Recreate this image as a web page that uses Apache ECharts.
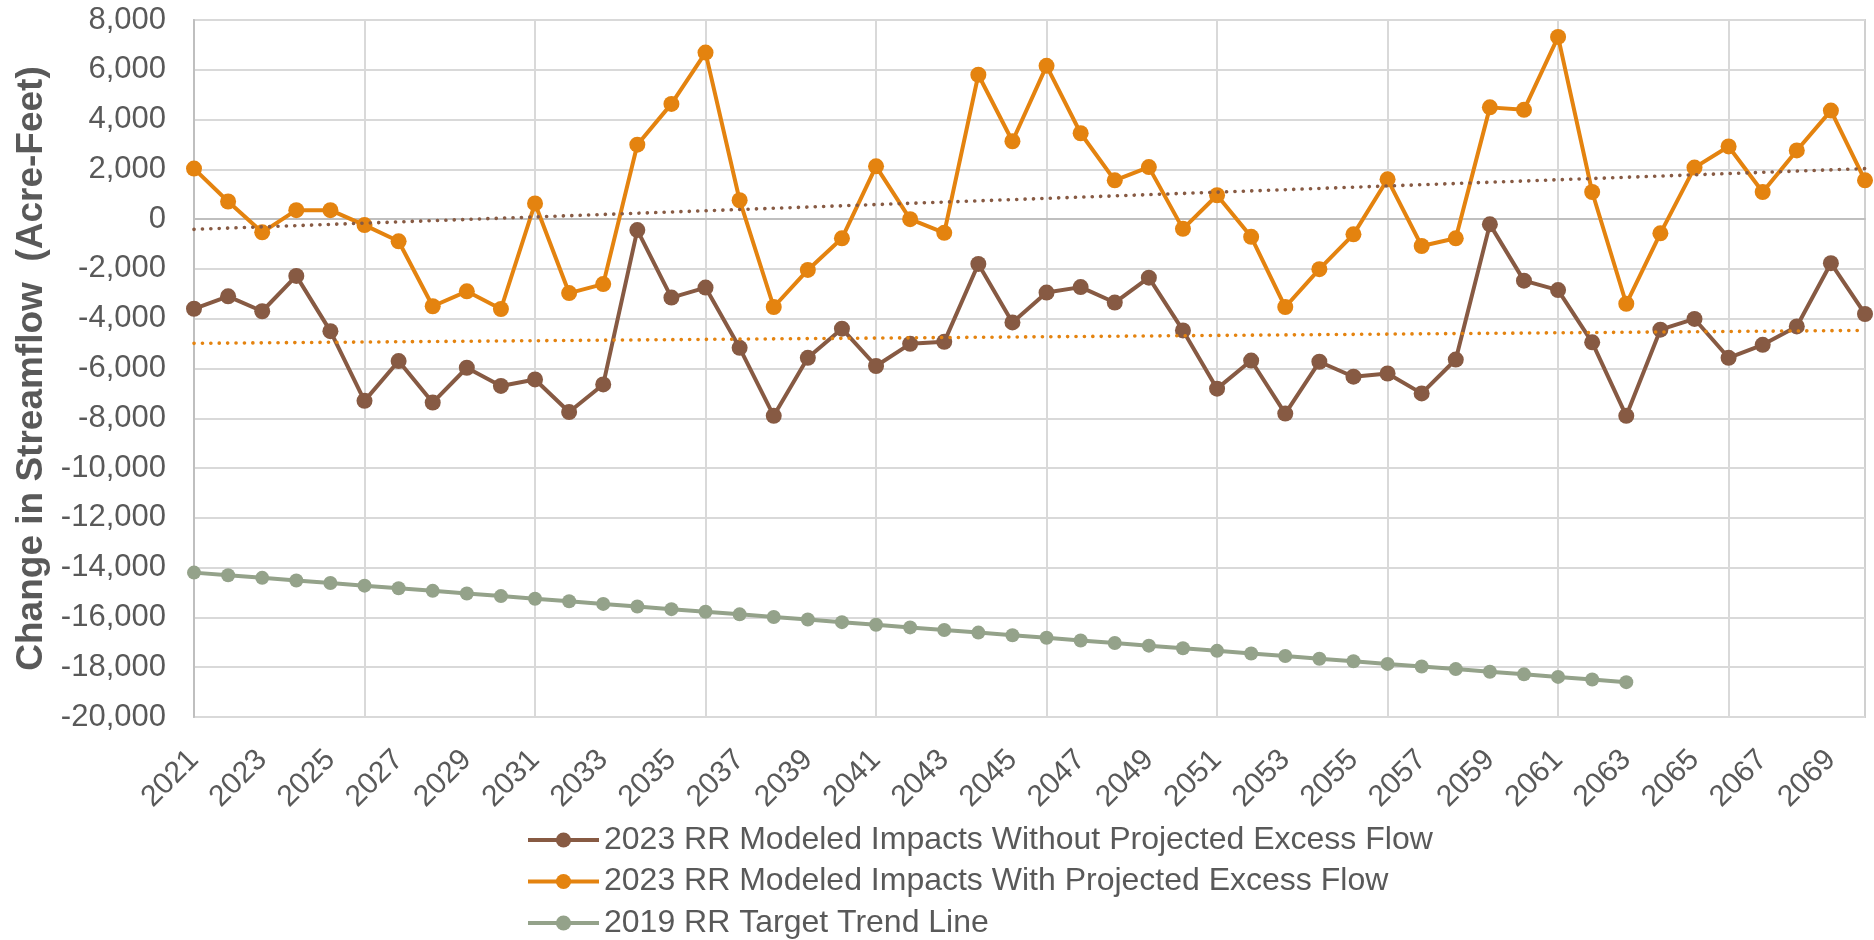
<!DOCTYPE html>
<html>
<head>
<meta charset="utf-8">
<script src="https://cdn.jsdelivr.net/npm/echarts@6/dist/echarts.min.js"></script>
<style>
html,body{margin:0;padding:0;background:#fff;}
#chart{width:1874px;height:940px;}
</style>
</head>
<body>
<div id="chart"></div>
<script>
const years = ['2021','2022','2023','2024','2025','2026','2027','2028','2029','2030',
  '2031','2032','2033','2034','2035','2036','2037','2038','2039','2040',
  '2041','2042','2043','2044','2045','2046','2047','2048','2049','2050',
  '2051','2052','2053','2054','2055','2056','2057','2058','2059','2060',
  '2061','2062','2063','2064','2065','2066','2067','2068','2069','2070'];

const withoutExcess = [-3600,-3100,-3700,-2280,-4500,-7300,-5700,-7370,-5970,-6700,
  -6440,-7750,-6640,-440,-3150,-2750,-5170,-7900,-5570,-4400,
  -5900,-5010,-4930,-1800,-4150,-2950,-2730,-3350,-2350,-4470,
  -6810,-5680,-7810,-5730,-6330,-6200,-7000,-5640,-210,-2470,
  -2850,-4950,-7900,-4440,-4010,-5570,-5050,-4310,-1770,-3810];

const withExcess = [2030,710,-530,360,360,-240,-890,-3500,-2900,-3610,
  630,-2970,-2610,2990,4630,6690,760,-3530,-2040,-770,
  2120,0,-550,5800,3130,6160,3450,1560,2090,-390,
  960,-710,-3530,-2010,-610,1600,-1080,-770,4490,4390,
  7320,1090,-3400,-570,2070,2920,1090,2760,4360,1560];

const targetTrend2019 = [-14200,-14305,-14410,-14514,-14619,-14724,-14829,-14933,-15038,-15143,
  -15248,-15352,-15457,-15562,-15667,-15771,-15876,-15981,-16086,-16190,
  -16295,-16400,-16505,-16610,-16714,-16819,-16924,-17029,-17133,-17238,
  -17343,-17448,-17552,-17657,-17762,-17867,-17971,-18076,-18181,-18286,
  -18390,-18495,-18600];

// Excel linear trendline end values (first year, last year)
const withoutTrendEnds = [-410, 2030];
const withTrendEnds = [-4990, -4470];

const seriesNames = [
  '2023 RR Modeled Impacts Without Projected Excess Flow',
  '2023 RR Modeled Impacts With Projected Excess Flow',
  '2019 RR Target Trend Line'
];

const yTicks = {min: -20000, max: 8000, interval: 2000};

const cBrown = '#875A43';
const cOrange = '#E4830F';
const cGreen = '#94A28A';
const textColor = '#595959';
const font = "'Liberation Sans', Arial, sans-serif";

function trendData(ends) {
  const d = years.map(() => null);
  d[0] = ends[0];
  d[years.length - 1] = ends[1];
  return d;
}
const greenData = years.map((y, i) => i < targetTrend2019.length ? targetTrend2019[i] : null);

const chart = echarts.init(document.getElementById('chart'), null, {renderer: 'canvas'});
chart.setOption({
  animation: false,
  backgroundColor: '#ffffff',
  textStyle: {fontFamily: font},
  grid: {left: 194, right: 9, top: 20, bottom: 223, show: true, borderColor: '#D0D0D0', borderWidth: 2},
  legend: {
    orient: 'vertical',
    left: 526,
    top: 824,
    padding: 0,
    height: 116,
    itemWidth: 71,
    itemHeight: 19,
    itemGap: 9.5,
    lineStyle: {width: 4},
    data: seriesNames,
    textStyle: {fontFamily: font, fontSize: 32, color: textColor, lineHeight: 32}
  },
  xAxis: {
    type: 'category',
    data: years,
    boundaryGap: false,
    axisLine: {show: true, lineStyle: {color: '#BFBFBF', width: 2}},
    axisTick: {show: false},
    axisLabel: {interval: 1, rotate: 45, fontSize: 30, color: textColor, fontFamily: font, margin: 38},
    splitLine: {show: true, interval: (i) => i % 5 === 0, lineStyle: {color: '#D9D9D9', width: 2}}
  },
  yAxis: {
    type: 'value',
    min: yTicks.min, max: yTicks.max, interval: yTicks.interval,
    name: 'Change in Streamflow  (Acre-Feet)',
    nameLocation: 'middle',
    nameGap: 143,
    nameTextStyle: {fontFamily: font, fontSize: 37, fontWeight: 'bold', color: textColor},
    axisLine: {show: true, lineStyle: {color: '#BFBFBF', width: 2}},
    axisTick: {show: false},
    axisLabel: {fontSize: 31, color: textColor, fontFamily: font, margin: 28,
      formatter: (v) => v.toLocaleString('en-US')},
    splitLine: {show: true, lineStyle: {color: '#D9D9D9', width: 2}}
  },
  series: [
    {
      name: seriesNames[0], type: 'line', data: withoutExcess,
      symbol: 'circle', symbolSize: 16, z: 3,
      lineStyle: {color: cBrown, width: 4}, itemStyle: {color: cBrown}
    },
    {
      name: seriesNames[1], type: 'line', data: withExcess,
      symbol: 'circle', symbolSize: 16, z: 4,
      lineStyle: {color: cOrange, width: 4}, itemStyle: {color: cOrange}
    },
    {
      name: seriesNames[2], type: 'line', data: greenData,
      symbol: 'circle', symbolSize: 14, z: 3,
      lineStyle: {color: cGreen, width: 4}, itemStyle: {color: cGreen}
    },
    {
      name: 'withoutTrend', type: 'line', data: trendData(withoutTrendEnds),
      connectNulls: true, showSymbol: false, symbol: 'none', z: 5, silent: true,
      lineStyle: {color: cBrown, width: 3.6, type: [0.1, 8.3], cap: 'round'}
    },
    {
      name: 'withTrend', type: 'line', data: trendData(withTrendEnds),
      connectNulls: true, showSymbol: false, symbol: 'none', z: 5, silent: true,
      lineStyle: {color: cOrange, width: 3.6, type: [0.1, 8.3], cap: 'round'}
    }
  ]
});
</script>
</body>
</html>
